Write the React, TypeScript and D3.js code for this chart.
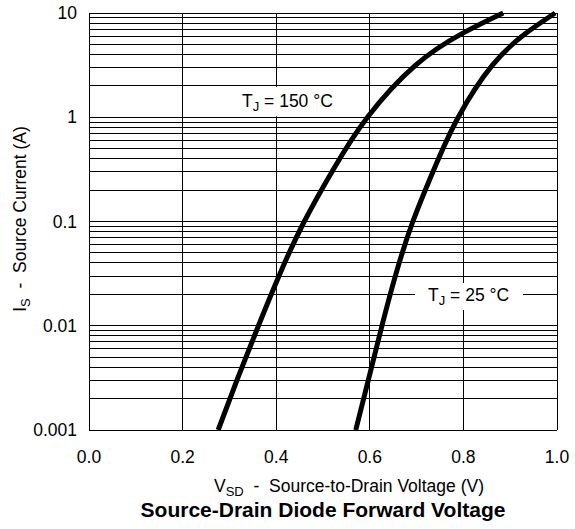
import React, { useEffect, useRef } from 'react';
import * as d3 from 'd3';

// Source-drain diode forward characteristic
const vsd150 = [0.276, 0.318, 0.362, 0.408, 0.46, 0.522, 0.595, 0.698, 0.796, 0.885];
const is150 = [0.001, 0.00316, 0.01, 0.0316, 0.1, 0.316, 1, 3.16, 6.31, 10];

const vsd25 = [0.57, 0.598, 0.626, 0.656, 0.692, 0.737, 0.789, 0.862, 0.932, 0.996];
const is25 = [0.001, 0.00316, 0.01, 0.0316, 0.1, 0.316, 1, 3.16, 6.31, 10];

const xTicks = [0, 0.2, 0.4, 0.6, 0.8, 1.0];
const yTicks = [0.001, 0.01, 0.1, 1, 10];
const yTickLabels = ['0.001', '0.01', '0.1', '1', '10'];

const FONT = '"Liberation Sans", Arial, Helvetica, sans-serif';
const FS = 17.5;

const App: React.FC = () => {
  const svgRef = useRef<SVGSVGElement>(null);

  useEffect(() => {
    if (!svgRef.current) return;
    const width = 575;
    const height = 529;
    const m = { left: 89, right: 557, top: 13, bottom: 430 };

    const svg = d3.select(svgRef.current);
    svg.selectAll('*').remove();
    svg.attr('width', width).attr('height', height);

    const x = d3.scaleLinear().domain([0, 1]).range([m.left, m.right]);
    const y = d3.scaleLog().domain([0.001, 10]).range([m.bottom, m.top]);

    const grid = svg.append('g')
      .attr('stroke', '#000')
      .attr('stroke-width', 1)
      .attr('shape-rendering', 'crispEdges');

    // log grid: 1..9 in every decade
    const minor: number[] = [];
    for (let e = -3; e < 1; e++) {
      for (let k = 1; k <= 9; k++) minor.push(k * Math.pow(10, e));
    }
    minor.push(10);

    grid.selectAll('line.h')
      .data(minor)
      .enter()
      .append('line')
      .attr('class', 'h')
      .attr('x1', m.left)
      .attr('x2', m.right)
      .attr('y1', d => y(d))
      .attr('y2', d => y(d));

    grid.selectAll('line.v')
      .data(xTicks)
      .enter()
      .append('line')
      .attr('class', 'v')
      .attr('x1', d => x(d))
      .attr('x2', d => x(d))
      .attr('y1', m.top)
      .attr('y2', m.bottom);

    // white boxes behind the temperature labels
    svg.append('rect')
      .attr('x', 236).attr('y', y(2) + 1)
      .attr('width', 106).attr('height', y(1) - y(2) - 2)
      .attr('fill', '#fff');
    svg.append('rect')
      .attr('x', 415).attr('y', 283)
      .attr('width', 108).attr('height', 27)
      .attr('fill', '#fff');

    const line = d3.line<[number, number]>()
      .x(d => x(d[0]))
      .y(d => y(d[1]))
      .curve(d3.curveNatural);

    const curves: [number, number][][] = [
      vsd150.map((v, i) => [v, is150[i]] as [number, number]),
      vsd25.map((v, i) => [v, is25[i]] as [number, number]),
    ];

    svg.append('g')
      .selectAll('path')
      .data(curves)
      .enter()
      .append('path')
      .attr('d', d => line(d))
      .attr('fill', 'none')
      .attr('stroke', '#000')
      .attr('stroke-width', 5)
      .attr('stroke-linecap', 'butt');

    // tick labels
    svg.append('g')
      .selectAll('text')
      .data(xTicks)
      .enter()
      .append('text')
      .attr('x', d => x(d))
      .attr('y', 463)
      .attr('text-anchor', 'middle')
      .text(d => d.toFixed(1));

    svg.append('g')
      .selectAll('text')
      .data(yTicks)
      .enter()
      .append('text')
      .attr('x', 77)
      .attr('y', d => y(d) + 6)
      .attr('text-anchor', 'end')
      .text((d, i) => yTickLabels[i]);

    svg.selectAll('text')
      .attr('font-family', FONT)
      .attr('font-size', FS)
      .attr('fill', '#000');

    // curve labels
    const tj = (tx: number, ty: number, temp: string) => {
      const t = svg.append('text')
        .attr('x', tx).attr('y', ty)
        .attr('font-family', FONT).attr('font-size', FS);
      t.append('tspan').text('T');
      t.append('tspan').attr('dy', 4).attr('font-size', 13).text('J');
      t.append('tspan').attr('dy', -4).text(` = ${temp} °C`);
    };
    tj(242, 107, '150');
    tj(428, 301, '25');

    // axis titles
    const xl = svg.append('text')
      .attr('x', 349).attr('y', 492)
      .attr('text-anchor', 'middle')
      .attr('font-family', FONT).attr('font-size', FS)
      .attr('style', 'white-space:pre');
    xl.append('tspan').text('V');
    xl.append('tspan').attr('dy', 4).attr('font-size', 13).text('SD');
    xl.append('tspan').attr('dy', -4).text('  -  Source-to-Drain Voltage (V)');

    const yl = svg.append('text')
      .attr('transform', `translate(26, 219) rotate(-90)`)
      .attr('text-anchor', 'middle')
      .attr('font-family', FONT).attr('font-size', FS)
      .attr('style', 'white-space:pre');
    yl.append('tspan').text('I');
    yl.append('tspan').attr('dy', 4).attr('font-size', 13).text('S');
    yl.append('tspan').attr('dy', -4).text('  -  Source Current (A)');

    svg.append('text')
      .attr('x', 323).attr('y', 517)
      .attr('text-anchor', 'middle')
      .attr('font-family', FONT)
      .attr('font-size', 21)
      .attr('font-weight', 'bold')
      .text('Source-Drain Diode Forward Voltage');
  }, []);

  return (
    <svg ref={svgRef} style={{ position: 'absolute', left: 0, top: 0, background: '#fff' }}></svg>
  );
};

export default App;
